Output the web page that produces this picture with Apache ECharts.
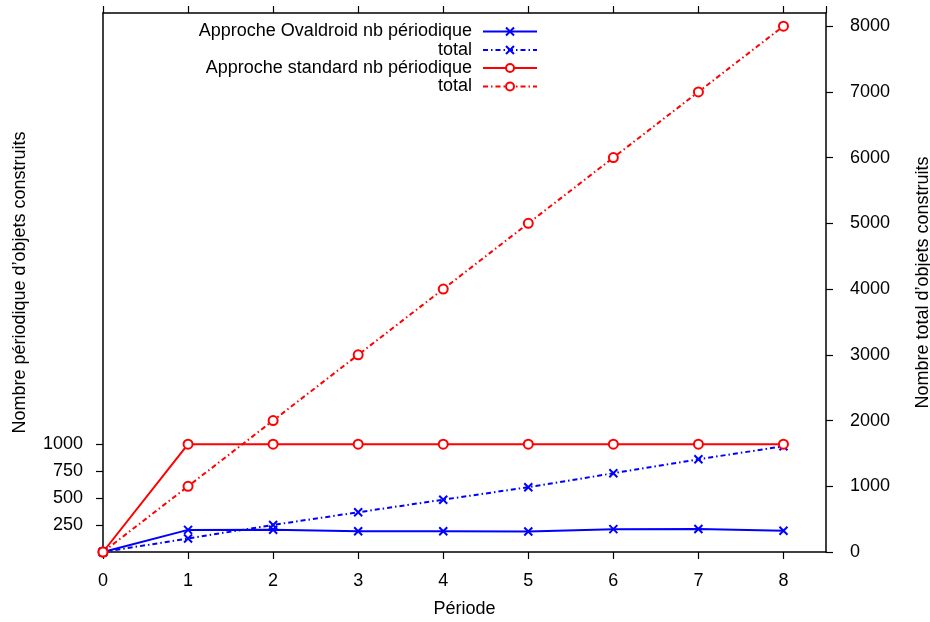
<!DOCTYPE html>
<html>
<head>
<meta charset="utf-8">
<script src="https://cdn.jsdelivr.net/npm/echarts@6/dist/echarts.min.js"></script>
<style>
  html, body { margin: 0; padding: 0; background: #fff; }
  #chart { width: 930px; height: 622px; }
</style>
</head>
<body>
<div id="chart"></div>
<script>
// données
var periodes = [0, 1, 2, 3, 4, 5, 6, 7, 8];
var ovaldroidPeriodique = [0, 205, 207, 192, 192, 190, 212, 213, 197];
var ovaldroidTotal = [0, 205, 412, 604, 796, 986, 1198, 1411, 1608];
var standardPeriodique = [0, 1000, 1000, 1000, 1000, 1000, 1000, 1000, 1000];
var standardTotal = [0, 1000, 2000, 3000, 4000, 5000, 6000, 7000, 8000];

var ticksGauche = [250, 500, 750, 1000];
var ticksDroite = [0, 1000, 2000, 3000, 4000, 5000, 6000, 7000, 8000];

var FONT = 'Liberation Sans';
var TAILLE = 18;
var BLEU = '#0000ff', ROUGE = '#ff0000';
var tiretPoint = [5, 3, 1.5, 3];

function paires(ys) {
	var out = [];
	for(var i = 0; i < periodes.length; i++) out.push([periodes[i], ys[i]]);
	return out;
}

function brut(v) { return String(v); }

var croix = 'path://M0,0L10,10M10,0L0,10';

var myChart = echarts.init(document.getElementById('chart'));

function legende(nom, texte, top) {
	return {
		data: [nom],
		right: 392,
		top: top,
		orient: 'vertical',
		align: 'right',
		padding: 0,
		itemWidth: 54,
		itemHeight: 10,
		selectedMode: false,
		formatter: function() { return texte; },
		textStyle: {
			fontFamily: FONT,
			fontSize: TAILLE,
			color: '#000',
			padding: [0, 6, 0, 0]
		}
	};
}

var ligneAxe = { show: true, onZero: false, lineStyle: { color: '#000', width: 1.5 } };
var tiret = { show: true, inside: false, length: 7, lineStyle: { color: '#000', width: 1.2 } };

var axeX = {
	type: 'value',
	min: 0,
	max: 8.5,
	interval: 1,
	axisLine: ligneAxe,
	axisTick: tiret,
	splitLine: { show: false }
};

var option = {
	animation: false,
	backgroundColor: '#fff',
	grid: { left: 103, right: 104, top: 13, bottom: 70, outerBoundsMode: 'none' },
	legend: [
		legende('Approche Ovaldroid nb périodique', 'Approche Ovaldroid nb périodique', 22.5),
		legende('Ovaldroid total', 'total', 41),
		legende('Approche standard nb périodique', 'Approche standard nb périodique', 59),
		legende('standard total', 'total', 77.5)
	],
	xAxis: [
		Object.assign({}, axeX, {
			position: 'bottom',
			name: 'Période',
			nameLocation: 'middle',
			nameGap: 48,
			nameTextStyle: { fontFamily: FONT, fontSize: TAILLE, color: '#000' },
			axisLabel: { fontFamily: FONT, fontSize: TAILLE, color: '#000', margin: 20, showMaxLabel: false }
		}),
		Object.assign({}, axeX, {
			position: 'top',
			axisLabel: { show: false }
		})
	],
	yAxis: [
		{
			type: 'value',
			position: 'left',
			min: 0,
			max: 5000,
			name: 'Nombre périodique d’objets construits',
			nameLocation: 'middle',
			nameGap: 74,
			nameRotate: 90,
			nameTextStyle: { fontFamily: FONT, fontSize: TAILLE, color: '#000' },
			axisLine: ligneAxe,
			axisTick: Object.assign({}, tiret, { customValues: ticksGauche }),
			axisLabel: { fontFamily: FONT, fontSize: TAILLE, color: '#000', margin: 20, customValues: ticksGauche, formatter: brut },
			splitLine: { show: false }
		},
		{
			type: 'value',
			position: 'right',
			min: 0,
			max: 8200,
			name: 'Nombre total d’objets construits',
			nameLocation: 'middle',
			nameGap: 88,
			nameRotate: 90,
			nameTextStyle: { fontFamily: FONT, fontSize: TAILLE, color: '#000' },
			axisLine: ligneAxe,
			axisTick: Object.assign({}, tiret, { customValues: ticksDroite }),
			axisLabel: { fontFamily: FONT, fontSize: TAILLE, color: '#000', margin: 24, customValues: ticksDroite, formatter: brut },
			splitLine: { show: false }
		}
	],
	series: [
		{
			name: 'Approche Ovaldroid nb périodique',
			type: 'line',
			yAxisIndex: 0,
			data: paires(ovaldroidPeriodique),
			symbol: croix,
			symbolSize: 8,
			clip: false,
			lineStyle: { color: BLEU, width: 2 },
			itemStyle: { color: BLEU, borderColor: BLEU, borderWidth: 2 }
		},
		{
			name: 'Ovaldroid total',
			type: 'line',
			yAxisIndex: 1,
			data: paires(ovaldroidTotal),
			symbol: croix,
			symbolSize: 8,
			clip: false,
			lineStyle: { color: BLEU, width: 2, type: tiretPoint },
			itemStyle: { color: BLEU, borderColor: BLEU, borderWidth: 2 }
		},
		{
			name: 'Approche standard nb périodique',
			type: 'line',
			yAxisIndex: 0,
			data: paires(standardPeriodique),
			symbol: 'emptyCircle',
			symbolSize: 9,
			clip: false,
			lineStyle: { color: ROUGE, width: 2 },
			itemStyle: { color: ROUGE, borderColor: ROUGE, borderWidth: 2 }
		},
		{
			name: 'standard total',
			type: 'line',
			yAxisIndex: 1,
			data: paires(standardTotal),
			symbol: 'emptyCircle',
			symbolSize: 9,
			clip: false,
			lineStyle: { color: ROUGE, width: 2, type: tiretPoint },
			itemStyle: { color: ROUGE, borderColor: ROUGE, borderWidth: 2 }
		}
	]
};

myChart.setOption(option);
</script>
</body>
</html>
